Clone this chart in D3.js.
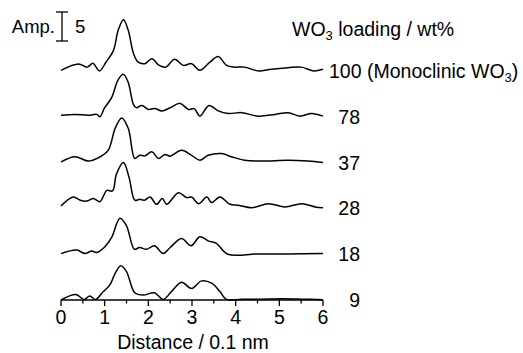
<!DOCTYPE html>
<html>
<head>
<meta charset="utf-8">
<script src="https://cdn.jsdelivr.net/npm/d3@7"></script>
<style>
  html, body { margin: 0; padding: 0; background: #fff; }
  svg { display: block; font-family: "Liberation Sans", Arial, Helvetica, sans-serif; }
</style>
</head>
<body>
<svg id="chart" width="523" height="353"></svg>
<script>
// ---- data ----
const seriesLabels = ["9", "18", "28", "37", "78", "100"];
const offsets = [0, 7.9, 15.8, 23.7, 31.6, 39.5];

const d9 = [[0,0],[0.34,0.95],[0.53,0.1],[0.66,0.7],[0.79,0.1],[0.97,1.45],[1.12,2.6],[1.24,4.6],[1.37,5.9],[1.5,4.9],[1.69,1.25],[1.88,0.85],[2.14,1.25],[2.34,0.1],[2.53,1.45],[2.76,3.05],[2.99,2.0],[3.22,3.3],[3.45,2.9],[3.64,1.45],[3.79,0.1],[4.14,0.15],[4.6,0.15],[5.05,0.2],[5.5,0.15],[6,0.05]];
const d18 = [[0,0.1],[0.36,0.7],[0.55,0.1],[0.7,0.55],[0.82,0.3],[1.0,1.25],[1.16,2.9],[1.35,6.2],[1.5,4.9],[1.68,0.85],[1.8,1.15],[1.96,0.85],[2.14,1.45],[2.34,0.1],[2.5,1.15],[2.76,2.7],[2.98,1.45],[3.18,3.0],[3.37,2.3],[3.56,1.85],[3.82,0],[4.5,0.05],[5.2,0.05],[6,0.1]];
const d28 = [[0,0.4],[0.28,1.95],[0.44,1.4],[0.59,1.25],[0.74,1.7],[0.89,1.15],[1.05,3.1],[1.18,3.0],[1.27,5.9],[1.43,7.9],[1.56,5.3],[1.69,1.4],[1.8,1.55],[1.91,1.4],[2.04,1.95],[2.19,0.7],[2.32,1.7],[2.42,0.7],[2.69,2.7],[2.88,1.85],[2.99,1.95],[3.15,0.8],[3.34,1.95],[3.45,1.0],[3.64,1.95],[3.87,0.7],[4.06,0.55],[4.37,0.1],[4.75,0.8],[5.13,0.25],[5.51,0.8],[5.82,0.25],[6,0.1]];
const d37 = [[0,0.1],[0.32,1.0],[0.63,0.25],[0.85,0.8],[1.08,2.1],[1.24,5.9],[1.39,7.7],[1.54,5.9],[1.69,0.7],[1.8,1.25],[1.92,1.15],[2.08,1.85],[2.23,0.7],[2.38,1.4],[2.5,1.1],[2.76,2.1],[2.99,1.25],[3.18,0.4],[3.37,1.25],[3.68,1.55],[3.9,1.0],[4.21,0.4],[4.6,0.25],[5.2,0.4],[5.66,0.25],[6,0]];
const d78 = [[0,0.25],[0.32,0.4],[0.63,0.25],[0.82,0.4],[0.89,0],[1.0,1.55],[1.16,3.3],[1.31,6.4],[1.43,7.3],[1.54,5.9],[1.66,2.1],[1.73,1.55],[1.85,1.95],[2.0,1.25],[2.15,1.4],[2.31,1.0],[2.5,1.55],[2.73,2.3],[2.92,1.25],[3.05,1.4],[3.18,0.1],[3.39,1.95],[3.6,1.0],[3.83,0.55],[4.14,0.7],[4.52,0.1],[4.9,0.4],[5.2,0.7],[5.47,0.1],[5.74,0.55],[6,0.1]];
const d100 = [[0,0.1],[0.4,1.2],[0.6,0.65],[0.73,1.3],[0.88,0.0],[1.03,1.5],[1.2,3.5],[1.31,7.0],[1.43,8.8],[1.54,7.0],[1.66,3.0],[1.77,1.5],[1.92,1.25],[2.08,2.1],[2.25,0.95],[2.4,0.65],[2.6,2.0],[2.8,0.95],[2.99,1.25],[3.18,0.1],[3.41,1.5],[3.6,2.5],[3.79,0.95],[3.98,0.65],[4.2,0.65],[4.52,0.0],[4.82,0.3],[5.2,0.55],[5.5,0.65],[5.78,0.0],[6,0.3]];

const seriesData = [d9, d18, d28, d37, d78, d100];
const xTicks = [0, 1, 2, 3, 4, 5, 6];
const xMinorTicks = [0.5, 1.5, 2.5, 3.5, 4.5, 5.5];
const scaleBarAmp = 5;

// ---- drawing ----
const svg = d3.select("#chart");
const x = d3.scaleLinear().domain([0, 6]).range([61, 323]);
const y = d3.scaleLinear().domain([0, 50]).range([300, 10]);
const FS = 19.5;

const line = d3.line()
  .x(d => x(d[0]))
  .y(d => y(d[1]))
  .curve(d3.curveCatmullRom.alpha(0.5));

seriesData.forEach((data, i) => {
  const shifted = data.map(p => [p[0], p[1] + offsets[i]]);
  svg.append("path")
    .attr("d", line(shifted))
    .attr("fill", "none")
    .attr("stroke", "#000")
    .attr("stroke-width", 1.5)
    .attr("stroke-linejoin", "round");
});

// x axis
const axisG = svg.append("g").attr("transform", `translate(0,${y(0)})`);
axisG.append("line")
  .attr("x1", x(0)).attr("x2", x(6))
  .attr("y1", 0).attr("y2", 0)
  .attr("stroke", "#000").attr("stroke-width", 1.3);
axisG.selectAll("line.major").data(xTicks).enter().append("line")
  .attr("class", "major")
  .attr("x1", d => x(d)).attr("x2", d => x(d))
  .attr("y1", 0).attr("y2", 6)
  .attr("stroke", "#000").attr("stroke-width", 1.3);
axisG.selectAll("line.minor").data(xMinorTicks).enter().append("line")
  .attr("class", "minor")
  .attr("x1", d => x(d)).attr("x2", d => x(d))
  .attr("y1", 0).attr("y2", 3.5)
  .attr("stroke", "#000").attr("stroke-width", 1.3);
axisG.selectAll("text.tick").data(xTicks).enter().append("text")
  .attr("class", "tick")
  .attr("x", d => x(d)).attr("y", 24)
  .attr("text-anchor", "middle")
  .attr("font-size", FS)
  .text(d => d);

svg.append("text")
  .attr("x", (x(0) + x(6)) / 2 + 1).attr("y", 349)
  .attr("text-anchor", "middle")
  .attr("font-size", FS)
  .text("Distance / 0.1 nm");

// series labels
seriesLabels.forEach((lab, i) => {
  const by = y(offsets[i]) + 7;
  if (lab === "100") {
    const t = svg.append("text")
      .attr("x", 329).attr("y", by)
      .attr("font-size", FS);
    t.append("tspan").text("100 (Monoclinic WO");
    t.append("tspan").attr("font-size", 13).attr("dy", 4).text("3");
    t.append("tspan").attr("dy", -4).text(")");
  } else {
    svg.append("text")
      .attr("x", 360).attr("y", by)
      .attr("text-anchor", "end")
      .attr("font-size", FS)
      .text(lab);
  }
});

// legend title
const title = svg.append("text").attr("x", 292).attr("y", 36).attr("font-size", FS);
title.append("tspan").text("WO");
title.append("tspan").attr("font-size", 13).attr("dy", 4).text("3");
title.append("tspan").attr("dy", -4).text(" loading / wt%");

// amplitude scale bar
const barTop = 12;
const barLen = y(0) - y(scaleBarAmp);
const bx = 62;
svg.append("line").attr("x1", bx).attr("x2", bx).attr("y1", barTop).attr("y2", barTop + barLen)
  .attr("stroke", "#000").attr("stroke-width", 1.3);
svg.append("line").attr("x1", bx - 6).attr("x2", bx + 6).attr("y1", barTop).attr("y2", barTop)
  .attr("stroke", "#000").attr("stroke-width", 1.3);
svg.append("line").attr("x1", bx - 6).attr("x2", bx + 6).attr("y1", barTop + barLen).attr("y2", barTop + barLen)
  .attr("stroke", "#000").attr("stroke-width", 1.3);
svg.append("text").attr("x", 55).attr("y", 33).attr("text-anchor", "end")
  .attr("font-size", 18.5).text("Amp.");
svg.append("text").attr("x", 75).attr("y", 33)
  .attr("font-size", 18.5).text(scaleBarAmp);
</script>
</body>
</html>
